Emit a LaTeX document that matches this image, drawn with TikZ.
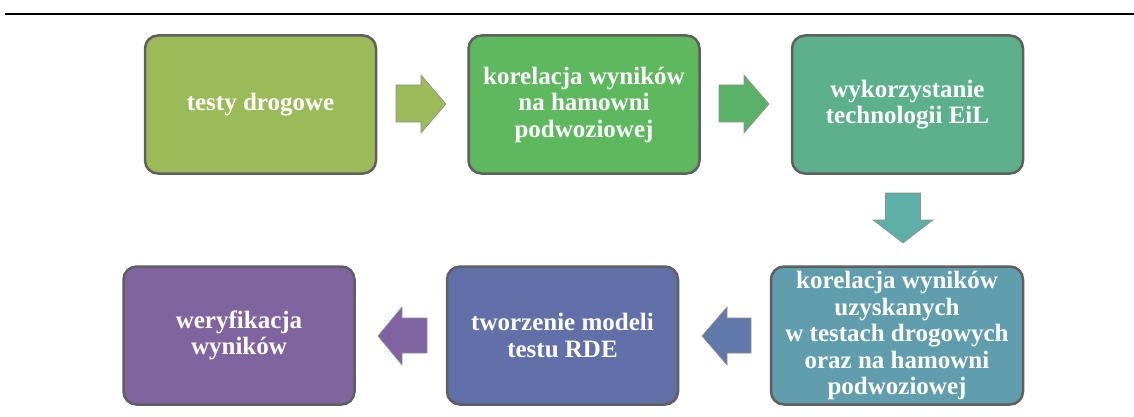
\documentclass[tikz,border=0pt]{standalone}
\usepackage{fontspec}
\setmainfont{Liberation Serif}
\definecolor{cA}{RGB}{155,187,89}
\definecolor{cAa}{RGB}{155,186,90}
\definecolor{cB}{RGB}{94,184,94}
\definecolor{cBa}{RGB}{90,178,104}
\definecolor{cC}{RGB}{92,176,140}
\definecolor{cCa}{RGB}{94,175,166}
\definecolor{cD}{RGB}{96,158,174}
\definecolor{cDa}{RGB}{96,120,170}
\definecolor{cE}{RGB}{97,112,168}
\definecolor{cEa}{RGB}{128,100,162}
\definecolor{cF}{RGB}{128,100,160}
\definecolor{bord}{RGB}{95,95,95}
\begin{document}
\begin{tikzpicture}[x=1pt,y=-1pt,
  box/.style={draw=bord,line width=2.5pt,rounded corners=13pt,minimum width=231pt,minimum height=138pt,
    inner sep=0pt,align=center,text=white,font=\fontsize{25}{26.5}\selectfont\bfseries},
  blockarrow/.style={draw=bord!70,line width=0.6pt}]
\useasboundingbox (0,0) rectangle (1134,417);
\draw[line width=2.2pt] (5,14) -- (1134,14);
\node[box,fill=cA] (b1) at (260.5,104.5) {testy drogowe};
\node[box,fill=cB] (b2) at (584,104.5) {korelacja wyników\\na hamowni\\podwoziowej};
\node[box,fill=cC] (b3) at (907.5,104.5) {wykorzystanie\\technologii EiL};
\node[box,fill=cD,minimum width=252pt] (b4) at (897,335.5) {korelacja wyników\\uzyskanych\\w testach drogowych\\oraz na hamowni\\podwoziowej};
\node[box,fill=cE] (b5) at (562.5,335.5) {tworzenie modeli\\testu RDE};
\node[box,fill=cF] (b6) at (239,335.5) {weryfikacja\\wyników};
% block arrows
\draw[blockarrow,fill=cAa] (396,85) -- (421,85) -- (421,75) -- (446,104) -- (421,133) -- (421,122) -- (396,122) -- cycle;
\draw[blockarrow,fill=cBa] (719,85) -- (744,85) -- (744,75) -- (769,104) -- (744,133) -- (744,122) -- (719,122) -- cycle;
\draw[blockarrow,fill=cCa] (885.5,193) -- (920.5,193) -- (920.5,220) -- (933,220) -- (903,243) -- (873,220) -- (885.5,220) -- cycle;
\draw[blockarrow,fill=cDa] (751,318) -- (727,318) -- (727,307) -- (702,336) -- (727,365) -- (727,353) -- (751,353) -- cycle;
\draw[blockarrow,fill=cEa] (427,318) -- (402,318) -- (402,307) -- (378,336) -- (402,365) -- (402,353) -- (427,353) -- cycle;
\end{tikzpicture}
\end{document}
